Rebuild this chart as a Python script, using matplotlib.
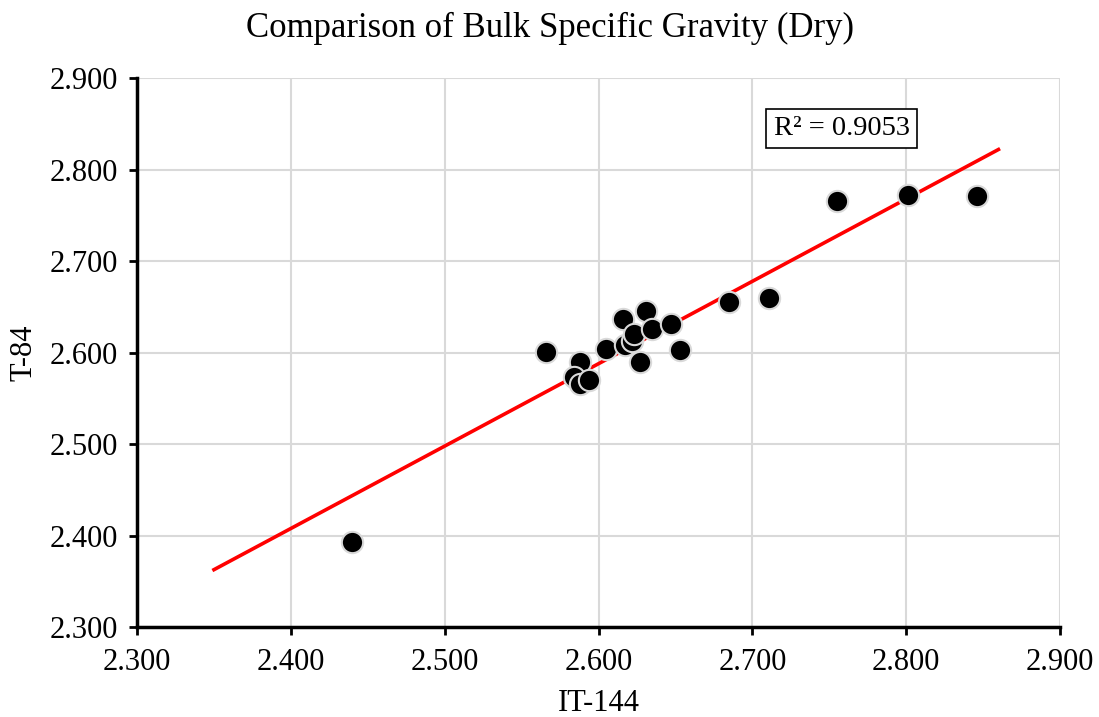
import numpy as np
import matplotlib
matplotlib.use("Agg")
import matplotlib.pyplot as plt

plt.rcParams['font.family'] = ['Liberation Serif', 'DejaVu Serif']

# IT-144 vs T-84 bulk specific gravity (dry)
it144 = [2.440, 2.566, 2.588, 2.584, 2.588, 2.594, 2.605, 2.616, 2.617,
         2.622, 2.623, 2.627, 2.631, 2.635, 2.647, 2.653, 2.685, 2.711,
         2.755, 2.801, 2.846]
t84 = [2.393, 2.601, 2.590, 2.573, 2.566, 2.570, 2.604, 2.637, 2.608,
       2.613, 2.620, 2.590, 2.645, 2.626, 2.631, 2.603, 2.655, 2.660,
       2.766, 2.772, 2.771]
trend_range = [2.35, 2.86]
r2_text = "R² = 0.9053"

fig = plt.figure(figsize=(10.99, 7.17), dpi=100)
ax = fig.add_axes([0.1247, 0.1255, 0.8398, 0.7657])

slope, intercept = np.polyfit(it144, t84, 1)
xs = np.array(trend_range)
ax.plot(xs, slope * xs + intercept, color='#ff0000', lw=2.6, zorder=2)

ax.scatter(it144, t84, s=235, color='black', edgecolors='#d9d9d9',
           linewidths=1.5, zorder=3)

ax.set_xlim(2.3, 2.9)
ax.set_ylim(2.3, 2.9)
ticks = np.arange(2.3, 2.901, 0.1)
ax.set_xticks(ticks)
ax.set_yticks(ticks)
ax.set_xticklabels(['%.3f' % t for t in ticks])
ax.set_yticklabels(['%.3f' % t for t in ticks])
ax.tick_params(labelsize=22, length=6, width=2, direction='out', color='black')
ax.tick_params(axis='y', pad=8)
ax.tick_params(axis='x', pad=9)
ax.grid(True, color='#d9d9d9', lw=1.5, zorder=0)
ax.set_axisbelow(True)
for s in ['top', 'right']:
    ax.spines[s].set_visible(False)
for s in ['left', 'bottom']:
    ax.spines[s].set_linewidth(2.5)
    ax.spines[s].set_zorder(4)

ax.set_xlabel('IT-144', fontsize=22, labelpad=9)
ax.set_ylabel('T-84', fontsize=22, labelpad=8)
fig.text(0.5, 0.96, 'Comparison of Bulk Specific Gravity (Dry)', fontsize=25,
         ha='center', va='center')

ax.text(2.758, 2.845, r2_text, fontsize=20.5, ha='center', va='center',
        bbox=dict(boxstyle='square,pad=0.25', fc='white', ec='black', lw=1.2),
        zorder=5)

fig.savefig('out.png', dpi=100)
